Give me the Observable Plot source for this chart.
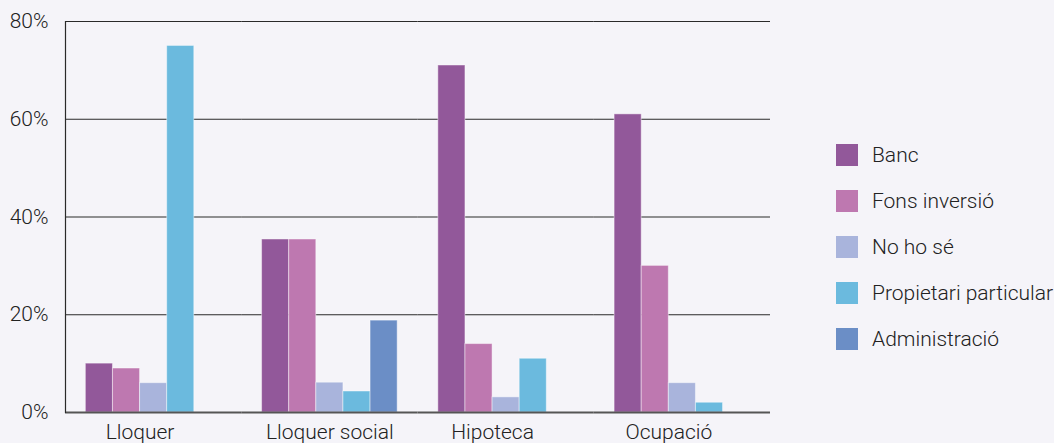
<!DOCTYPE html>
<html>
<head>
<meta charset="utf-8">
<script src="https://cdn.jsdelivr.net/npm/d3@7"></script>
<script src="https://cdn.jsdelivr.net/npm/@observablehq/plot@0.6"></script>
<style>
  html, body { margin: 0; padding: 0; background: #f5f4f9; }
  #wrap { position: relative; width: 1054px; height: 443px; overflow: hidden;
          font-family: "Roboto Light", Roboto, sans-serif; font-weight: 300; color: #222; }
  #chart { position: absolute; left: 0; top: 0; }
  #legend { position: absolute; left: 836px; top: 0; }
  .item { position: absolute; left: 0; display: flex; align-items: center;
          white-space: nowrap; font-size: 21px; height: 22px; }
  .sw { width: 22px; height: 22px; margin-right: 14px; flex: none; }
</style>
</head>
<body>
<div id="wrap"><div id="chart"></div><div id="legend"></div></div>
<script>
// Categories (x groups) and series (bars inside each group)
const categories = ["Lloquer", "Lloquer social", "Hipoteca", "Ocupació"];
const series = ["Banc", "Fons inversió", "No ho sé", "Propietari particular", "Administració"];
const colors = ["#92589a", "#be78b0", "#a9b4dc", "#6bbade", "#6b8ec6"];

// Share of answers (%) per category, one array per series
const banc                 = [10, 35.4, 71, 61];
const fonsInversio         = [9, 35.4, 14, 30];
const noHoSe               = [6, 6.1, 3.1, 6];
const propietariParticular = [75, 4.3, 11, 2];
const administracio        = [null, 18.8, null, null];

const yTicks = [0, 20, 40, 60, 80];

const seriesValues = [banc, fonsInversio, noHoSe, propietariParticular, administracio];

// Long table for the bars
const rows = [];
categories.forEach((c, i) => {
  series.forEach((s, j) => {
    const v = seriesValues[j][i];
    if (v != null) rows.push({category: c, series: s, value: v});
  });
});

// Layout
const W = 790, H = 443;
const mL = 65, mR = 20, mT = 21, mB = 31;
const xPadOuter = 0.75;
const facetStep = (W - mL - mR) / categories.length;
const xStep = facetStep / (series.length + 2 * xPadOuter);
const font = "'Roboto Light', Roboto, sans-serif";

// Category labels are centred under the bars that are present
const labels = categories.map(c => {
  const present = series.filter(s => rows.some(r => r.category === c && r.series === s));
  const n = present.length;
  return n % 2
    ? {category: c, anchor: present[(n - 1) / 2], even: false}
    : {category: c, anchor: present[n / 2 - 1], even: true};
});

const chart = Plot.plot({
  width: W,
  height: H,
  marginLeft: mL,
  marginRight: mR,
  marginTop: mT,
  marginBottom: mB,
  style: {background: "transparent", fontFamily: font, fontWeight: 300, fontSize: "21px", color: "#222"},
  fx: {domain: categories, paddingInner: 0, paddingOuter: 0, round: false, axis: null},
  x: {domain: series, paddingInner: 0, paddingOuter: xPadOuter, round: false, axis: null},
  y: {domain: [0, 80], axis: null, label: null},
  color: {domain: series, range: colors},
  marks: [
    Plot.ruleY(yTicks.filter(d => d > 0), {stroke: "#2a2a2a", strokeWidth: 1.2}),
    Plot.barY(rows, {fx: "category", x: "series", y: "value", fill: "series",
                     stroke: "#ffffff", strokeOpacity: 0.45, strokeWidth: 1}),
    Plot.ruleY([0], {stroke: "#555", strokeWidth: 2}),
    Plot.frame({anchor: "left", facetAnchor: "left", stroke: "#2a2a2a", strokeWidth: 1.2}),
    Plot.axisY({ticks: yTicks, tickSize: 0, tickPadding: 17, tickFormat: d => d + "%",
                label: null, fontSize: 21, fill: "#222"}),
    Plot.text(labels.filter(d => !d.even), {fx: "category", x: "anchor", text: "category",
              frameAnchor: "bottom", lineAnchor: "top", dy: 12, fill: "#222"}),
    Plot.text(labels.filter(d => d.even), {fx: "category", x: "anchor", text: "category",
              frameAnchor: "bottom", lineAnchor: "top", dy: 12, dx: xStep / 2, fill: "#222"})
  ]
});
document.getElementById("chart").appendChild(chart);

// Legend
const legend = document.getElementById("legend");
series.forEach((s, i) => {
  const item = document.createElement("div");
  item.className = "item";
  item.style.top = (144 + i * 46) + "px";
  const sw = document.createElement("span");
  sw.className = "sw";
  sw.style.background = colors[i];
  const t = document.createElement("span");
  t.textContent = s;
  item.appendChild(sw);
  item.appendChild(t);
  legend.appendChild(item);
});
</script>
</body>
</html>
